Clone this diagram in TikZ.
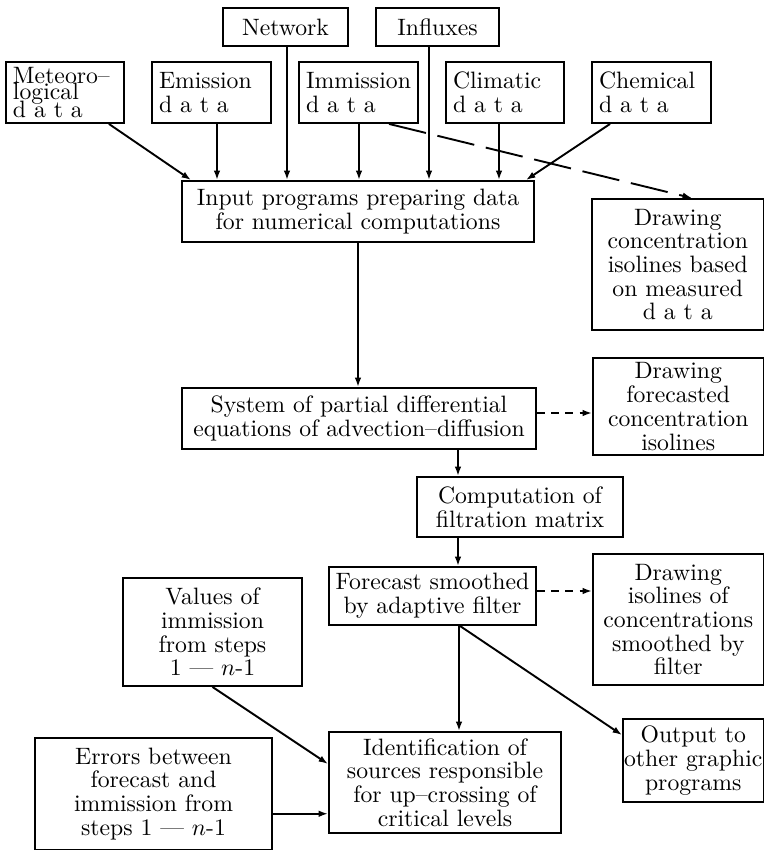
\documentclass[tikz,border=0pt]{standalone}
\usetikzlibrary{arrows.meta,calc}
\tikzset{
  box/.style={draw, line width=0.8pt, inner sep=0pt, font=\fontsize{10}{10}\selectfont},
  arr/.style={line width=0.8pt, -{Latex[length=4pt,width=2.8pt]}},
  ldash/.style={arr, dash pattern=on 16pt off 5pt},
  sdash/.style={arr, dash pattern=on 3.4pt off 2.6pt},
}
\newcommand{\cbox}[6]{%
  \pgfmathsetmacro\bw{(#4-#2)*0.4219}%
  \pgfmathsetmacro\bh{(#5-#3)*0.4219}%
  \node[box, align=center, minimum width=\bw pt, minimum height=\bh pt]
    (#1) at ({(#2+#4)/2},{(#3+#5)/2}) {#6};}
\newcommand{\lbox}[6]{%
  \pgfmathsetmacro\bw{(#4-#2-14)*0.4219}%
  \pgfmathsetmacro\bh{(#5-#3)*0.4219}%
  \node[box, align=left, inner xsep=2.95pt, text width=\bw pt, minimum height=\bh pt]
    (#1) at ({(#2+#4)/2},{(#3+#5)/2}) {#6};}
\begin{document}
\begin{tikzpicture}[x=0.4219pt, y=-0.4219pt]
\useasboundingbox (0,0) rectangle (765,851);
% top boxes
\cbox{net}{223}{8}{348}{46}{Network}
\cbox{inf}{376}{8}{499}{46}{Influxes}
\lbox{met}{6}{62}{124}{123}{Meteoro--\\[-3pt]logical\\[-2.5pt]d a t a}
\lbox{em}{152}{62}{271}{123}{Emission\\d a t a}
\lbox{imm}{299}{62}{418}{123}{Immission\\d a t a}
\lbox{cli}{446}{62}{564}{123}{Climatic\\d a t a}
\lbox{che}{592}{62}{711}{123}{Chemical\\d a t a}
% main chain
\cbox{in}{182}{181}{534}{242}{Input programs preparing data\\for numerical computations}
\cbox{dc}{592}{199}{763.5}{330}{Drawing\\concentration\\isolines based\\on measured\\d a t a}
\cbox{sys}{182}{388}{536}{449}{System of partial differential\\equations of advection--diffusion}
\cbox{df}{593}{358}{763.5}{455}{Drawing\\forecasted\\concentration\\isolines}
\cbox{comp}{417}{477}{623}{537}{Computation of\\filtration matrix}
\cbox{fore}{329}{567}{536}{625}{Forecast smoothed\\by adaptive filter}
\cbox{ds}{593}{554}{763.5}{685}{Drawing\\isolines of\\concentrations\\smoothed by\\filter}
\cbox{val}{123}{578}{302}{686}{Values of\\immission\\from steps\\1 --- $n$-1}
\cbox{err}{35}{738}{272}{849.5}{Errors between\\forecast and\\immission from\\steps 1 --- $n$-1}
\cbox{id}{329}{732}{561}{833}{Identification of\\sources responsible\\for up--crossing of\\critical levels}
\cbox{out}{623}{719}{763.5}{802}{Output to\\other graphic\\programs}
% arrows into input
\draw[arr] ($(met.south east)+(-16,0)$) -- ($(in.north west)+(10,0)$);
\draw[arr] ($(em.south)+(5.5,0)$) coordinate (a1) -- (a1 |- in.north);
\draw[arr] ($(net.south)+(1.5,0)$) coordinate (a2) -- (a2 |- in.north);
\draw[arr] ($(imm.south)+(0.5,0)$) coordinate (a3) -- (a3 |- in.north);
\draw[arr] ($(inf.south)+(-8.5,0)$) coordinate (a4) -- (a4 |- in.north);
\draw[arr] ($(cli.south)+(-6,0)$) coordinate (a5) -- (a5 |- in.north);
\draw[arr] ($(che.south)+(-41.5,0)$) -- ($(in.north east)+(-9,0)$);
\draw[ldash] ($(imm.south west)+(91,0)$) -- ($(dc.north west)+(101,0)$);
% chain
\draw[arr] (in.south) -- (in.south |- sys.north);
\draw[sdash] ($(sys.east)+(0,-5.5)$) coordinate (s1) -- (s1 -| df.west);
\draw[arr] ($(sys.south)+(99,0)$) coordinate (a6) -- (a6 |- comp.north);
\draw[arr] ($(comp.south)+(-62,0)$) coordinate (a7) -- (a7 |- fore.north);
\draw[sdash] ($(fore.east)+(0,-5)$) coordinate (s2) -- (s2 -| ds.west);
\draw[arr] ($(fore.south)+(26.5,0)$) coordinate (a8) -- (a8 |- id.north);
\draw[arr] ($(fore.south)+(27.5,0)$) -- ($(out.north west)+(0,17)$);
\draw[arr] (val.south) -- ($(id.west)+(0,-18.5)$);
\draw[arr] ($(err.east)+(0,20)$) coordinate (b1) -- (b1 -| id.west);
\end{tikzpicture}
\end{document}
